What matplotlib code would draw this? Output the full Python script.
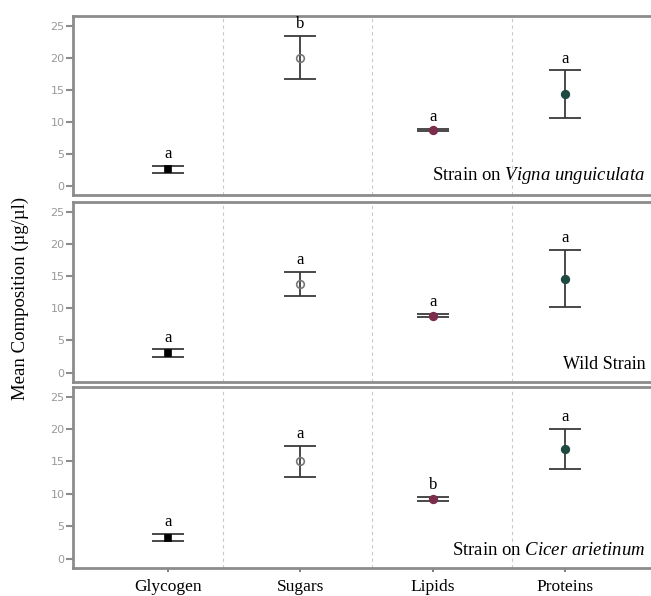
import numpy as np
import matplotlib
matplotlib.use("Agg")
import matplotlib.pyplot as plt

# data
categories = ["Glycogen", "Sugars", "Lipids", "Proteins"]
panels = ["vigna", "wild", "cicer"]

mean_vigna = [2.6, 20.0, 8.7, 14.3]
err_vigna = [0.55, 3.4, 0.2, 3.7]
letters_vigna = ["a", "b", "a", "a"]

mean_wild = [3.0, 13.8, 8.85, 14.6]
err_wild = [0.6, 1.9, 0.2, 4.4]
letters_wild = ["a", "a", "a", "a"]

mean_cicer = [3.2, 15.0, 9.2, 16.9]
err_cicer = [0.55, 2.35, 0.3, 3.1]
letters_cicer = ["a", "a", "b", "a"]

yticks = [0, 5, 10, 15, 20, 25]

plt.rcParams['font.family'] = ['Liberation Serif', 'DejaVu Serif']
plt.rcParams['mathtext.fontset'] = 'custom'
plt.rcParams['mathtext.rm'] = 'Liberation Serif'
plt.rcParams['mathtext.it'] = 'Liberation Serif:italic'

markers = ['s', 'o', 'o', 'o']
faces = ['black', 'none', '#7b2d4b', '#1e4a42']
edges = ['black', '#777777', '#7b2d4b', '#1e4a42']
frame = '#8c8c8c'

fig = plt.figure(figsize=(6.51, 5.96), dpi=100)
boxes = [(0.1121, 0.6728, 0.8879, 0.3003),
         (0.1121, 0.3591, 0.8879, 0.3020),
         (0.1121, 0.0470, 0.8879, 0.3037)]

data = [(mean_vigna, err_vigna, letters_vigna),
        (mean_wild, err_wild, letters_wild),
        (mean_cicer, err_cicer, letters_cicer)]

x = np.arange(len(categories))
for k, box in enumerate(boxes):
    ax = fig.add_axes(box)
    means, errs, letters = data[k]
    for i in range(len(categories)):
        ax.errorbar(x[i], means[i], yerr=errs[i], fmt='none', ecolor='#3a3a3a',
                    elinewidth=1.3, capsize=11.5, capthick=1.3, zorder=3)
        ax.plot(x[i], means[i], marker=markers[i], markersize=5.5 if i else 5,
                markerfacecolor=faces[i], markeredgecolor=edges[i],
                markeredgewidth=1.2, linestyle='none', zorder=4)
        ax.text(x[i], means[i] + errs[i] + 0.6, letters[i], ha='center', va='bottom',
                fontsize=12)
    for xv in [0.416, 1.54, 2.60]:
        ax.axvline(xv, color='#c8c8c8', linestyle=(0, (3, 3)), linewidth=0.8, zorder=1)
    ax.set_xlim(-0.72, 3.65)
    ax.set_ylim(-1.45, 26.5)
    ax.set_yticks(yticks)
    ax.set_yticklabels([str(t) for t in yticks], fontsize=8, color='#999999',
                       family='DejaVu Sans')
    ax.tick_params(axis='y', length=5, width=1.5, color=frame, pad=1)
    ax.spines['right'].set_visible(False)
    for s in ['top', 'bottom', 'left']:
        ax.spines[s].set_color(frame)
        ax.spines[s].set_linewidth(2)
    if k < 2:
        ax.set_xticks([])
    else:
        ax.set_xticks(x)
        ax.set_xticklabels(categories, fontsize=12.5)
        ax.tick_params(axis='x', length=3, width=1.2, color='#666666', pad=5)

fig.axes[0].text(0.99, 0.05, "Strain on $\\it{Vigna\\ unguiculata}$", transform=fig.axes[0].transAxes,
                 ha='right', va='bottom', fontsize=13.5)
fig.axes[1].text(0.99, 0.05, "Wild Strain", transform=fig.axes[1].transAxes,
                 ha='right', va='bottom', fontsize=13)
fig.axes[2].text(0.99, 0.05, "Strain on $\\it{Cicer\\ arietinum}$", transform=fig.axes[2].transAxes,
                 ha='right', va='bottom', fontsize=13.5)

fig.text(0.032, 0.5, "Mean Composition (µg/µl)", rotation=90, ha='center', va='center',
         fontsize=13.5)

plt.savefig("out.png", dpi=100)
